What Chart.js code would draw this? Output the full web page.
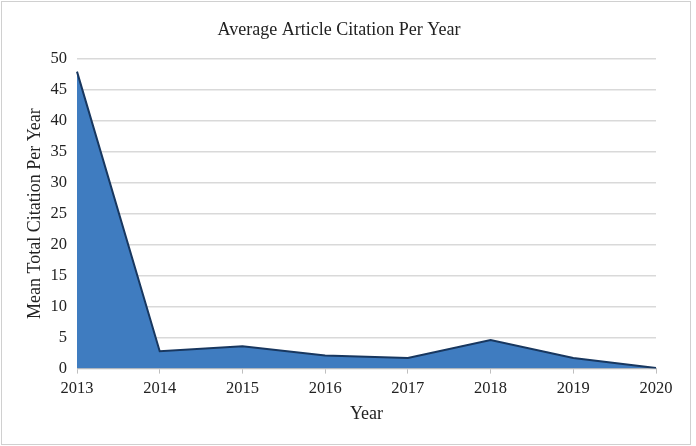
<!DOCTYPE html>
<html>
<head>
<meta charset="utf-8">
<script src="https://cdn.jsdelivr.net/npm/chart.js@4"></script>
<style>
  html, body { margin: 0; padding: 0; background: #fff; }
  #box {
    position: absolute; left: 1px; top: 1px;
    width: 688px; height: 442px;
    border: 1px solid #d0d0d0;
    box-sizing: content-box;
  }
  canvas { display: block; }
</style>
</head>
<body>
<div id="box"><canvas id="my-chart" width="688" height="442"></canvas></div>
<script>
// data
var years = ['2013', '2014', '2015', '2016', '2017', '2018', '2019', '2020'];
var meanCitation = [47.9, 2.8, 3.6, 2.1, 1.7, 4.6, 1.7, 0.1];
var yTicks = [0, 5, 10, 15, 20, 25, 30, 35, 40, 45, 50];

var serif = "'Liberation Serif', 'Times New Roman', serif";

var ctx = document.getElementById('my-chart').getContext('2d');
var chart = new Chart(ctx, {
    type: 'line',
    data: {
        labels: years,
        datasets: [{
            label: 'Mean Total Citation Per Year',
            data: meanCitation,
            fill: 'origin',
            backgroundColor: '#3f7cc0',
            borderColor: '#18375f',
            borderWidth: 2,
            pointRadius: 0,
            tension: 0
        }]
    },
    options: {
        responsive: false,
        animation: false,
        layout: { padding: { top: 14, right: 34, left: 20, bottom: 19 } },
        plugins: {
            legend: { display: false },
            tooltip: { enabled: false },
            title: {
                display: true,
                text: 'Average Article Citation Per Year',
                color: '#222',
                font: { family: serif, size: 18, weight: 'normal' },
                padding: { top: 3, bottom: 18 }
            }
        },
        scales: {
            x: {
                type: 'category',
                offset: false,
                grid: {
                    drawOnChartArea: false,
                    drawTicks: true,
                    tickLength: 5,
                    color: '#bfbfbf'
                },
                border: { color: '#bfbfbf' },
                ticks: {
                    color: '#222',
                    font: { family: serif, size: 16.5 },
                    maxRotation: 0,
                    padding: 5
                },
                title: {
                    display: true,
                    text: 'Year',
                    color: '#222',
                    font: { family: serif, size: 18 },
                    padding: { top: 0, bottom: 0 }
                }
            },
            y: {
                min: 0,
                max: 50,
                afterBuildTicks: function(axis) {
                    axis.ticks = yTicks.map(function(v) { return { value: v }; });
                },
                afterFit: function(axis) {
                    axis.width = 55;
                },
                grid: {
                    color: '#d9d9d9',
                    lineWidth: 1.5,
                    drawTicks: false
                },
                border: { display: false },
                ticks: {
                    color: '#222',
                    font: { family: serif, size: 16.5 },
                    padding: 10
                },
                title: {
                    display: true,
                    text: 'Mean Total Citation Per Year',
                    color: '#222',
                    font: { family: serif, size: 18 },
                    padding: { top: 2, bottom: 4 }
                }
            }
        }
    }
});
</script>
</body>
</html>
